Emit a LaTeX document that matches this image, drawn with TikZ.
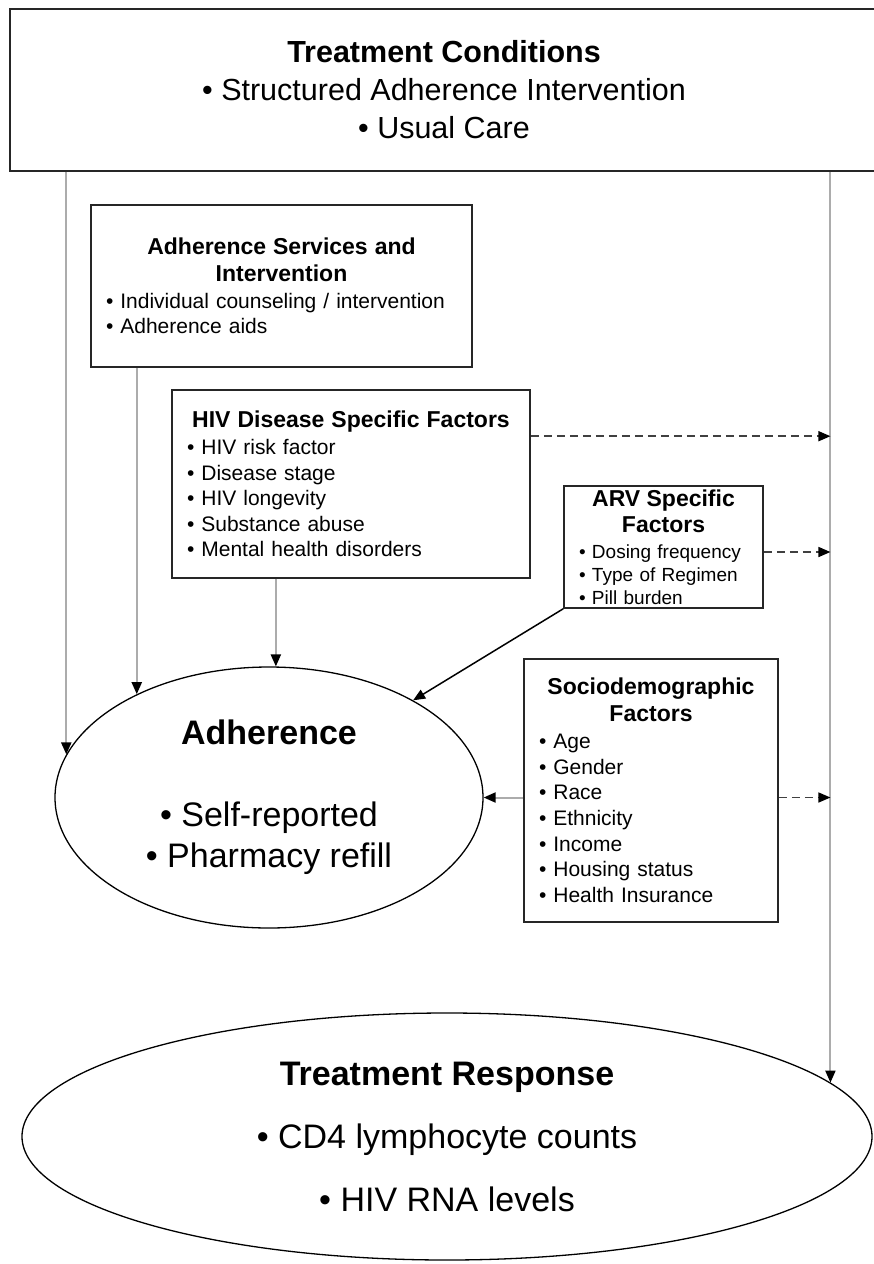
\documentclass[tikz,border=0pt]{standalone}
\usepackage{fontspec}
\setmainfont{Liberation Sans}
\usetikzlibrary{arrows.meta,shapes.geometric}
\newcommand{\ttl}[1]{\makebox[\hsize]{\fontsize{23}{28}\selectfont\bfseries #1}}

\begin{document}
\begin{tikzpicture}[x=1pt,y=-1pt,
    box/.style={draw=black!85,line width=1.6pt,inner xsep=15pt,inner ysep=0pt,align=left},
    oval/.style={draw,ellipse,line width=1.3pt,inner sep=0pt,align=center},
    tip/.style={-{Triangle[length=12pt,width=10pt,color=black]}},
    feed/.style={tip,draw=gray!65,line width=2pt},
    effect/.style={tip,draw=black!75,line width=1.5pt,dash pattern=on 8pt off 5pt}]
\useasboundingbox (0,0) rectangle (874,1264);
% boxes
\node[box,minimum width=868pt,minimum height=162pt,align=center,font=\fontsize{30.5}{38}\selectfont] (tc) at (444,90)
    {\textbf{Treatment Conditions}\\• Structured Adherence Intervention\\• Usual Care};
\node[box,minimum width=381pt,minimum height=162pt,text width=351pt,font=\fontsize{21}{25.5}\selectfont] (as) at (281.5,286)
    {\ttl{Adherence Services and}\\[2pt]\ttl{Intervention}\\[1pt]• Individual counseling / intervention\\• Adherence aids};
\node[box,minimum width=358pt,minimum height=188pt,text width=328pt,font=\fontsize{21}{25.5}\selectfont] (hiv) at (351,484)
    {\ttl{HIV Disease Specific Factors}\\[2pt]• HIV risk factor\\• Disease stage\\• HIV longevity\\• Substance abuse\\• Mental health disorders};
\node[box,minimum width=199pt,minimum height=122pt,text width=169pt,font=\fontsize{19}{23}\selectfont] (arv) at (663.5,547)
    {\ttl{ARV Specific}\\[3pt]\ttl{Factors}\\[3pt]• Dosing frequency\\• Type of Regimen\\• Pill burden};
\node[box,minimum width=254pt,minimum height=263pt,text width=224pt,font=\fontsize{21}{25.7}\selectfont] (socio) at (651,790.5)
    {\ttl{Sociodemographic}\\[1pt]\ttl{Factors}\\[1pt]• Age\\• Gender\\• Race\\• Ethnicity\\• Income\\• Housing status\\• Health Insurance};
% outcomes
\node[oval,minimum width=428pt,minimum height=261pt,font=\fontsize{34}{41}\selectfont] (adh) at (269,797.5)
    {\textbf{Adherence}\\[41pt]• Self-reported\\• Pharmacy refill};
\node[oval,minimum width=850pt,minimum height=247pt,font=\fontsize{34}{63}\selectfont] (tr) at (447,1136.5)
    {\textbf{Treatment Response}\\• CD4 lymphocyte counts\\• HIV RNA levels};
% connectors
\coordinate (rl) at (tr.8.2);
\coordinate (h1) at ([yshift=-47pt]hiv.north east);
\coordinate (a1) at ([yshift=-5pt]arv.east);
\draw[feed] (adh.168 |- tc.south) -- (adh.168);
\draw[feed] (rl |- tc.south) -- (rl);
\draw[feed] (adh.142 |- as.south) -- (adh.142);
\draw[feed] (adh.87.5 |- hiv.south) -- (adh.87.5);
\draw[tip,line width=1.5pt] (arv.south west) -- (adh.34);
\draw[feed] (socio.west |- adh.east) -- (adh.east);
\draw[effect] (h1) -- (h1 -| rl);
\draw[effect] (a1) -- (a1 -| rl);
\draw[effect] (socio.east |- adh.east) -- (rl |- adh.east);
\end{tikzpicture}
\end{document}
